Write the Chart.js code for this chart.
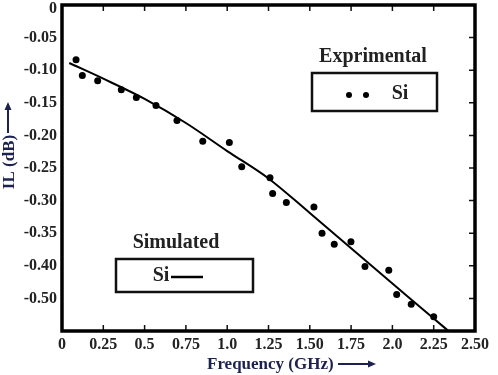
<!DOCTYPE html>
<html>
<head>
<meta charset="utf-8">
<title>IL vs Frequency</title>
<script src="https://cdn.jsdelivr.net/npm/chart.js@4.4.1/dist/chart.umd.min.js"></script>
<style>
    html, body { margin: 0; padding: 0; background: #fff; }
    #wrap { width: 498px; height: 375px; }
</style>
</head>
<body>
<div id="wrap"><canvas id="ilChart" width="498" height="375"></canvas></div>
<script>
// Measured points (Si)
const expFreq = [0.085, 0.123, 0.216, 0.359, 0.45, 0.569, 0.696, 0.852, 1.013, 1.088, 1.259,
    1.275, 1.358, 1.525, 1.574, 1.648, 1.749, 1.834, 1.978, 2.026, 2.114, 2.25];
const expIL = [-0.084, -0.108, -0.116, -0.130, -0.142, -0.154, -0.177, -0.209, -0.211, -0.248, -0.265,
    -0.289, -0.303, -0.310, -0.350, -0.367, -0.363, -0.401, -0.407, -0.444, -0.459, -0.478];

// Simulated curve (Si)
const simFreq = [0.044, 0.25, 0.5, 0.75, 1.0, 1.25, 1.5, 1.75, 2.0, 2.25, 2.34];
const simIL = [-0.089, -0.113, -0.144, -0.181, -0.224, -0.266, -0.319, -0.373, -0.427, -0.481, -0.50];

// Axis ticks (the original prints -0.50 where -0.45 belongs)
const xTickValues = [0, 0.25, 0.5, 0.75, 1.0, 1.25, 1.5, 1.75, 2.0, 2.25, 2.5];
const xTickLabels = ['0', '0.25', '0.5', '0.75', '1.0', '1.25', '1.50', '1.75', '2.0', '2.25', '2.50'];
const yTickValues = [0, -0.05, -0.10, -0.15, -0.20, -0.25, -0.30, -0.35, -0.40, -0.45, -0.50];
const yTickLabels = ['0', '-0.05', '-0.10', '-0.15', '-0.20', '-0.25', '-0.30', '-0.35', '-0.40', '-0.50', ''];

const serif = '"Liberation Serif", "Times New Roman", serif';
const titleColor = '#1c2150';

// Frame, inward ticks, legend boxes and axis titles
const decorPlugin = {
    id: 'decor',
    afterDatasetsDraw(chart) {
        const ctx = chart.ctx;
        const a = chart.chartArea;
        const xs = chart.scales.x;
        const ys = chart.scales.y;
        ctx.save();

        // inward ticks
        ctx.strokeStyle = '#111';
        ctx.lineWidth = 1.5;
        ctx.beginPath();
        xTickValues.forEach(v => {
            const px = xs.getPixelForValue(v);
            ctx.moveTo(px, a.bottom); ctx.lineTo(px, a.bottom - 6);
            ctx.moveTo(px, a.top); ctx.lineTo(px, a.top + 6);
        });
        yTickValues.forEach(v => {
            const py = ys.getPixelForValue(v);
            ctx.moveTo(a.right, py); ctx.lineTo(a.right - 6, py);
        });
        ctx.stroke();

        // frame
        ctx.lineWidth = 3.5;
        ctx.strokeStyle = '#000';
        ctx.strokeRect(a.left, a.top, a.right - a.left, a.bottom - a.top);

        // top y label sits a little below its tick in the original
        ctx.fillStyle = '#222';
        ctx.font = 'bold 16px ' + serif;
        ctx.textAlign = 'right';
        ctx.textBaseline = 'middle';
        ctx.fillText(yTickLabels[0], a.left - 5, ys.getPixelForValue(yTickValues[0]) + 4);

        // legend: experimental
        ctx.font = 'bold 20px ' + serif;
        ctx.textAlign = 'center';
        ctx.fillText('Exprimental', 373, 57);
        ctx.lineWidth = 2.5;
        ctx.strokeStyle = '#111';
        ctx.strokeRect(312, 73, 125, 38);
        ctx.fillStyle = '#000';
        [349, 366].forEach(cx => {
            ctx.beginPath(); ctx.arc(cx, 95, 3, 0, Math.PI * 2); ctx.fill();
        });
        ctx.fillStyle = '#222';
        ctx.fillText('Si', 400, 94);

        // legend: simulated
        ctx.fillText('Simulated', 176, 243);
        ctx.strokeRect(116, 259, 137, 33);
        ctx.fillText('Si', 161, 276);
        ctx.lineWidth = 2.5;
        ctx.strokeStyle = '#000';
        ctx.beginPath(); ctx.moveTo(171, 277); ctx.lineTo(203, 277); ctx.stroke();

        // axis titles with arrows
        ctx.fillStyle = titleColor;
        ctx.strokeStyle = titleColor;
        ctx.font = 'bold 17px ' + serif;
        ctx.textAlign = 'left';
        ctx.fillText('Frequency (GHz)', 207, 365);
        ctx.lineWidth = 2;
        ctx.beginPath(); ctx.moveTo(338, 364); ctx.lineTo(370, 364); ctx.stroke();
        ctx.beginPath(); ctx.moveTo(376, 364); ctx.lineTo(368, 360.5); ctx.lineTo(368, 367.5); ctx.closePath(); ctx.fill();

        ctx.save();
        ctx.translate(10, 162);
        ctx.rotate(-Math.PI / 2);
        ctx.textAlign = 'center';
        ctx.fillText('IL (dB)', 0, 0);
        ctx.restore();
        ctx.beginPath(); ctx.moveTo(8, 133); ctx.lineTo(8, 109); ctx.stroke();
        ctx.beginPath(); ctx.moveTo(8, 102); ctx.lineTo(4.5, 110); ctx.lineTo(11.5, 110); ctx.closePath(); ctx.fill();

        ctx.restore();
    }
};

const ctx = document.getElementById('ilChart').getContext('2d');
new Chart(ctx, {
    type: 'scatter',
    data: {
        datasets: [
            {
                label: 'Simulated Si',
                data: simFreq.map((f, i) => ({ x: f, y: simIL[i] })),
                showLine: true,
                borderColor: '#000',
                borderWidth: 2,
                pointRadius: 0,
                tension: 0.4,
                cubicInterpolationMode: 'monotone',
                fill: false
            },
            {
                label: 'Exprimental Si',
                data: expFreq.map((f, i) => ({ x: f, y: expIL[i] })),
                showLine: false,
                backgroundColor: '#000',
                borderColor: '#000',
                pointRadius: 3.5,
                pointBorderWidth: 0
            }
        ]
    },
    options: {
        responsive: false,
        animation: false,
        devicePixelRatio: 1,
        layout: { padding: { top: 5, right: 23, left: 0, bottom: 0 } },
        plugins: {
            legend: { display: false },
            tooltip: { enabled: false }
        },
        scales: {
            x: {
                type: 'linear',
                min: 0,
                max: 2.5,
                afterBuildTicks: scale => { scale.ticks = xTickValues.map(v => ({ value: v })); },
                afterFit: scale => { scale.height = 44; },
                grid: { display: false, drawTicks: false },
                border: { display: false },
                ticks: {
                    padding: 4,
                    maxRotation: 0,
                    autoSkip: false,
                    color: '#222',
                    font: { family: serif, size: 16, weight: 'bold' },
                    callback: (value, index) => xTickLabels[index]
                }
            },
            y: {
                type: 'linear',
                min: -0.5,
                max: 0,
                afterBuildTicks: scale => { scale.ticks = yTickValues.map(v => ({ value: v })); },
                afterFit: scale => {
                    scale.width = 62;
                    scale.paddingTop = 0;
                    scale.paddingBottom = 0;
                },
                grid: { display: false, drawTicks: false },
                border: { display: false },
                ticks: {
                    padding: 5,
                    autoSkip: false,
                    color: '#222',
                    font: { family: serif, size: 16, weight: 'bold' },
                    // the top label is drawn by the decor plugin
                    callback: (value, index) => (index === 0 ? '' : yTickLabels[index])
                }
            }
        }
    },
    plugins: [decorPlugin]
});
</script>
</body>
</html>
